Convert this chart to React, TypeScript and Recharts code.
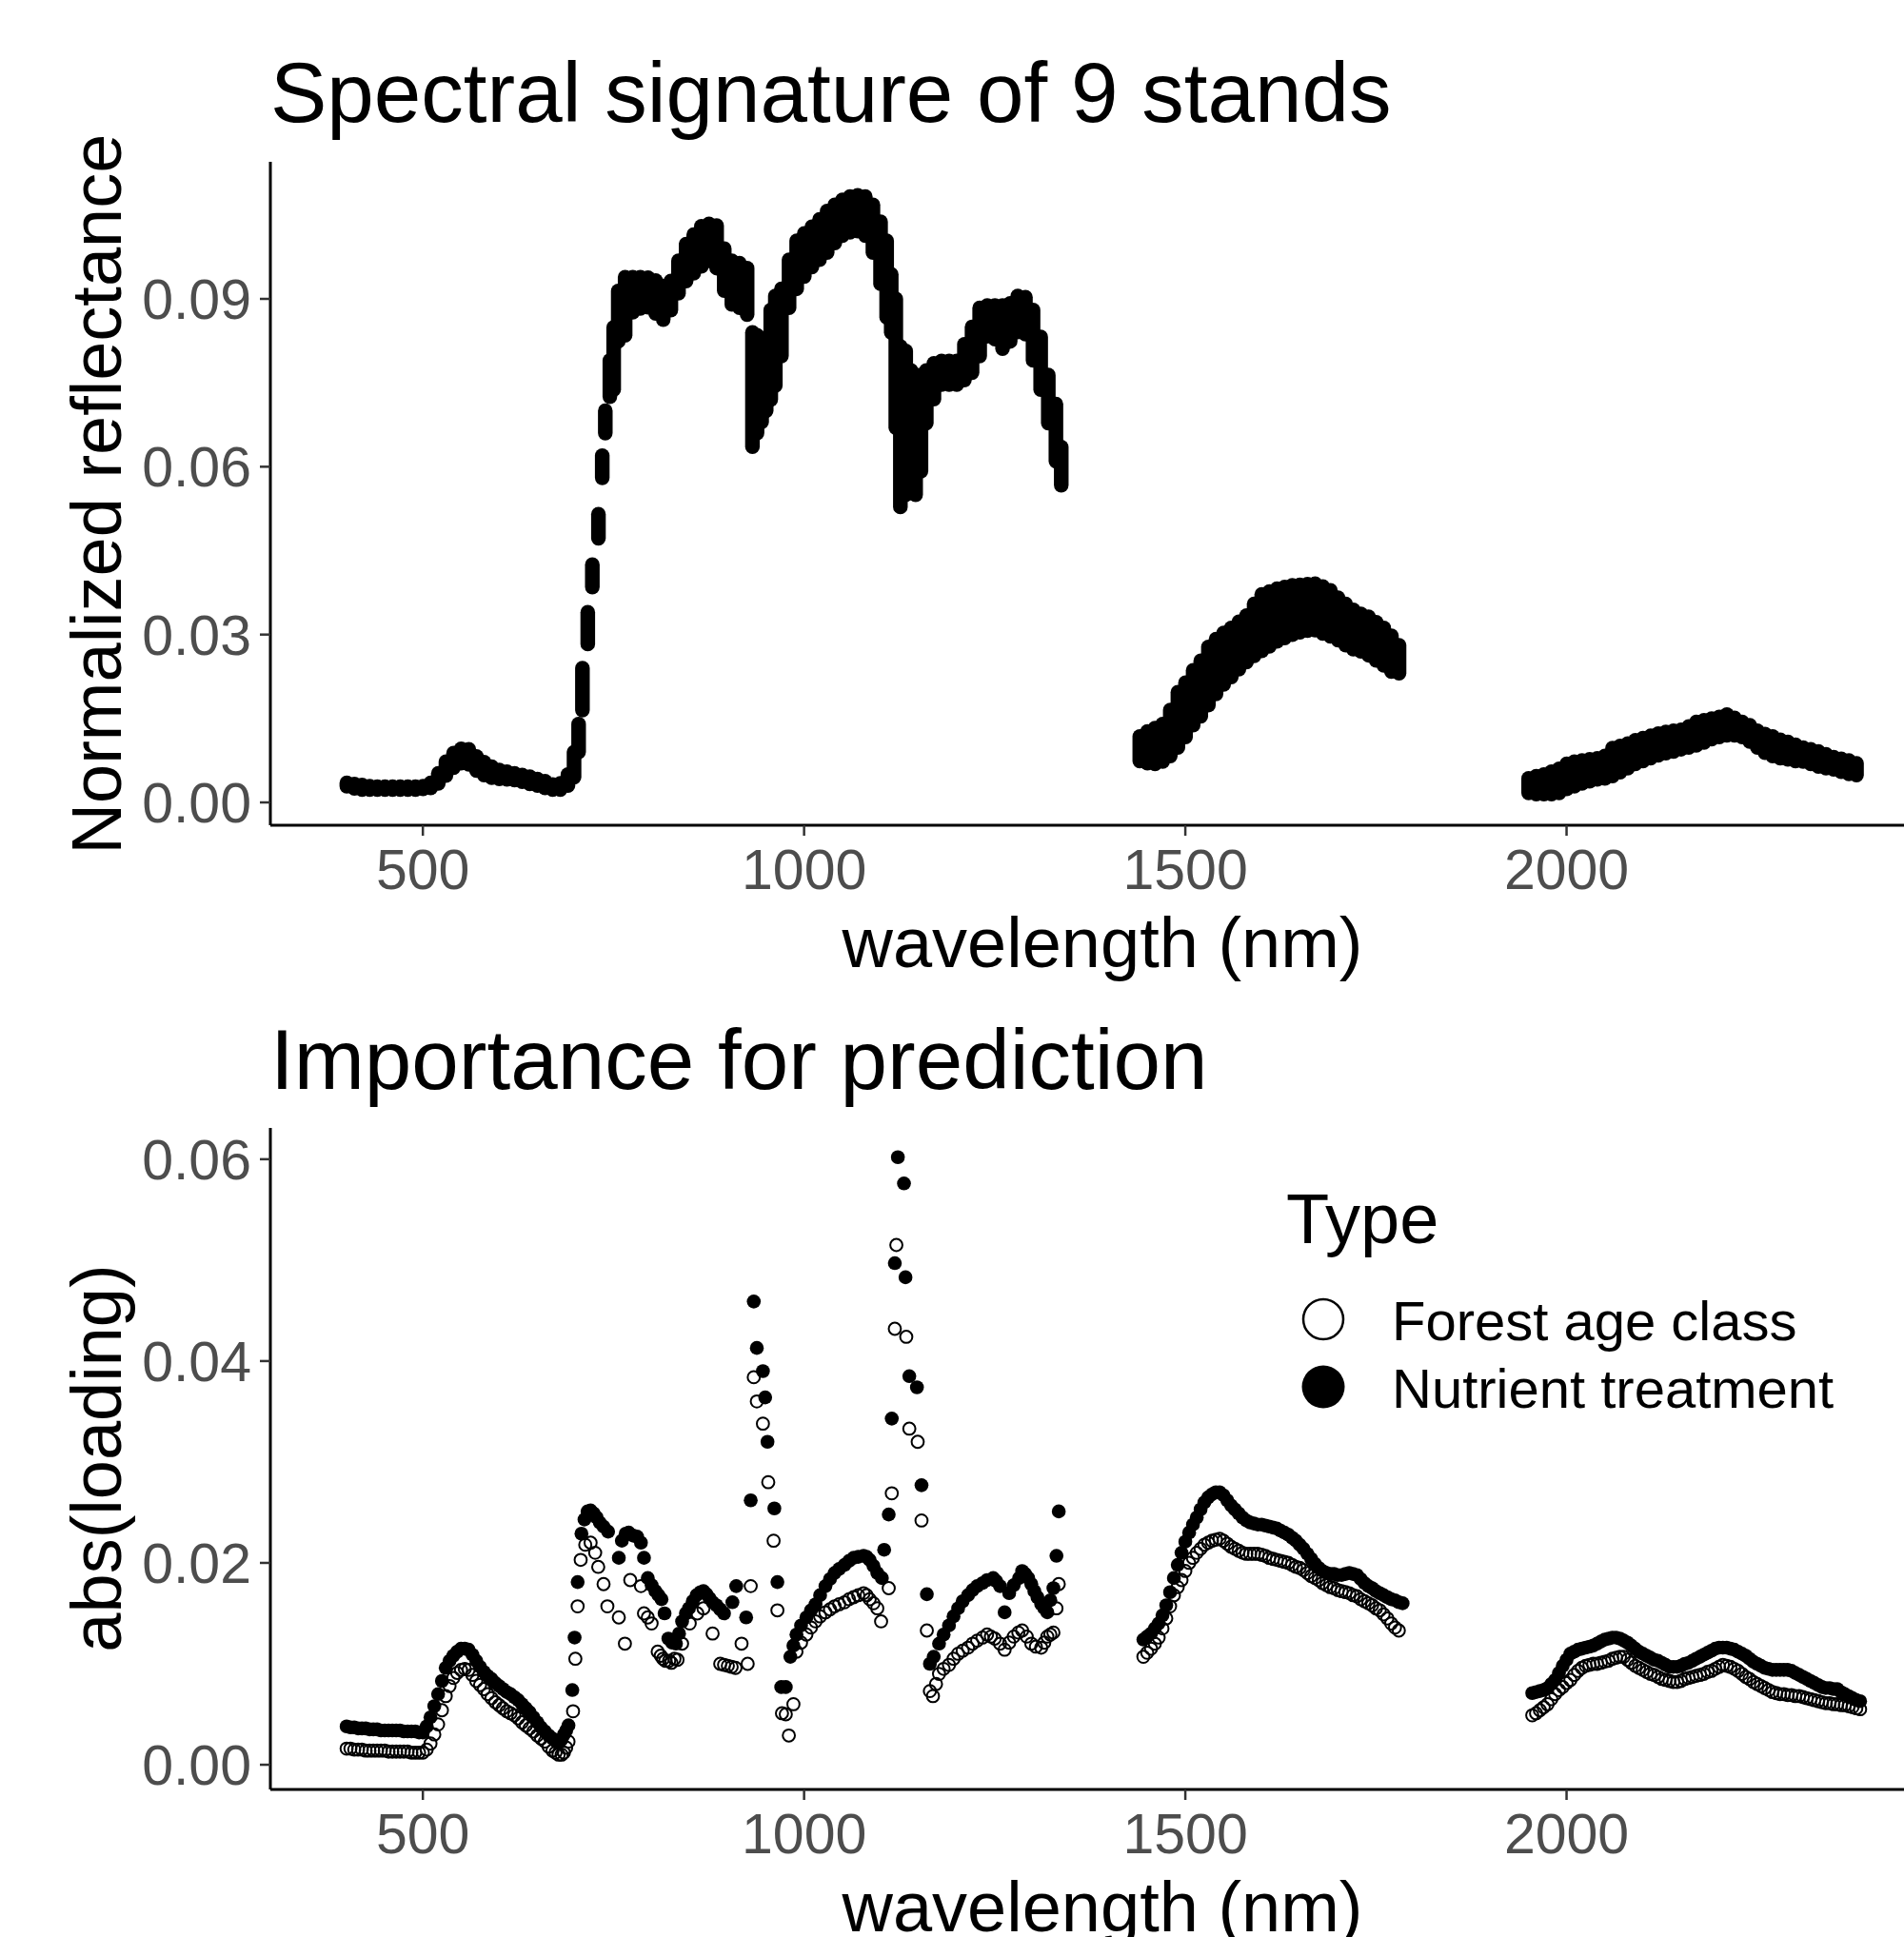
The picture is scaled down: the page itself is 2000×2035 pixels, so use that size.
import React from 'react';
import { ComposedChart, Bar, XAxis, YAxis, ScatterChart, Scatter } from 'recharts';

const FONT = '"Liberation Sans", Arial, Helvetica, sans-serif';

// top panel: per wavelength, lowest and highest reflectance among the 9 stands
const topWl = [
  400, 410, 420, 430, 440, 450, 460, 470, 480, 490, 500, 510, 520, 530, 540, 550, 560, 570, 580, 590,
  600, 610, 620, 630, 640, 650, 660, 670, 680, 690, 698, 704, 709, 716, 722, 730, 735, 739, 745, 750,
  756, 765, 775, 785, 795, 805, 815, 825, 835, 845, 855, 865, 875, 885, 895, 905, 915, 925, 932, 938,
  944, 950, 956, 962, 970, 980, 990, 1000, 1010, 1020, 1030, 1040, 1050, 1060, 1070, 1080, 1090, 1100, 1108, 1114,
  1120, 1126, 1133, 1140, 1146, 1153, 1160, 1170, 1180, 1190, 1200, 1210, 1220, 1230, 1240, 1250, 1260, 1270, 1280, 1290,
  1300, 1310, 1320, 1330, 1337,
  1440, 1450, 1460, 1470, 1480, 1490, 1500, 1510, 1520, 1530, 1540, 1550, 1560, 1570, 1580, 1590, 1600, 1610, 1620, 1630,
  1640, 1650, 1660, 1670, 1680, 1690, 1700, 1710, 1720, 1730, 1740, 1750, 1760, 1770, 1780,
  1950, 1960, 1970, 1980, 1990, 2000, 2010, 2020, 2030, 2040, 2050, 2060, 2070, 2080, 2090, 2100, 2110, 2120, 2130, 2140,
  2150, 2160, 2170, 2180, 2190, 2200, 2210, 2220, 2230, 2240, 2250, 2260, 2270, 2280, 2290, 2300, 2310, 2320, 2330, 2340,
  2350, 2360, 2370, 2380,
];
const topLo = [
  0.0029, 0.0025, 0.0023, 0.0023, 0.0023, 0.0023, 0.0023, 0.0023, 0.0023, 0.0023, 0.0024, 0.0026, 0.0034, 0.0048, 0.0062, 0.0070, 0.0068, 0.0057, 0.0049, 0.0044,
  0.0042, 0.0041, 0.0040, 0.0037, 0.0033, 0.0030, 0.0026, 0.0023, 0.0023, 0.0030, 0.0045, 0.0090, 0.0165, 0.0283, 0.0385, 0.0472, 0.0580, 0.0660, 0.0725, 0.0738,
  0.0824, 0.0835, 0.0876, 0.0883, 0.0885, 0.0874, 0.0863, 0.0880, 0.0910, 0.0932, 0.0946, 0.0958, 0.0968, 0.0955, 0.0915, 0.0890, 0.0884, 0.0872, 0.0636, 0.0660,
  0.0680, 0.0700, 0.0720, 0.0745, 0.0798, 0.0884, 0.0918, 0.0940, 0.0957, 0.0970, 0.0983, 0.1000, 0.1013, 0.1019, 0.1021, 0.1013, 0.0983, 0.0927, 0.0867, 0.0840,
  0.0670, 0.0528, 0.0550, 0.0584, 0.0550, 0.0592, 0.0678, 0.0721, 0.0747, 0.0747, 0.0747, 0.0755, 0.0768, 0.0798, 0.0833, 0.0828, 0.0811, 0.0824, 0.0841, 0.0837,
  0.0790, 0.0738, 0.0678, 0.0610, 0.0567,
  0.0074, 0.0070, 0.0069, 0.0073, 0.0083, 0.0098, 0.0117, 0.0138, 0.0154, 0.0174, 0.0194, 0.0211, 0.0224, 0.0238, 0.0251, 0.0262, 0.0271, 0.0279, 0.0288, 0.0294,
  0.0300, 0.0304, 0.0307, 0.0308, 0.0302, 0.0297, 0.0290, 0.0281, 0.0274, 0.0270, 0.0263, 0.0254, 0.0245, 0.0234, 0.0231,
  0.0017, 0.0015, 0.0015, 0.0015, 0.0017, 0.0024, 0.0029, 0.0034, 0.0038, 0.0041, 0.0043, 0.0047, 0.0054, 0.0061, 0.0069, 0.0074, 0.0079, 0.0084, 0.0088, 0.0091,
  0.0095, 0.0098, 0.0102, 0.0107, 0.0113, 0.0117, 0.0120, 0.0120, 0.0117, 0.0109, 0.0098, 0.0089, 0.0083, 0.0079, 0.0077, 0.0074, 0.0073, 0.0069, 0.0064, 0.0061,
  0.0059, 0.0055, 0.0051, 0.0049,
];
const topHi = [
  0.0035, 0.0033, 0.0031, 0.0029, 0.0028, 0.0028, 0.0028, 0.0028, 0.0028, 0.0028, 0.0029, 0.0035, 0.0052, 0.0073, 0.0088, 0.0096, 0.0095, 0.0082, 0.0072, 0.0064,
  0.0058, 0.0055, 0.0052, 0.0049, 0.0046, 0.0042, 0.0038, 0.0032, 0.0034, 0.0050, 0.0090, 0.0140, 0.0240, 0.0340, 0.0425, 0.0515, 0.0620, 0.0700, 0.0790, 0.0849,
  0.0914, 0.0939, 0.0939, 0.0939, 0.0938, 0.0933, 0.0923, 0.0932, 0.0968, 0.0998, 0.1015, 0.1030, 0.1034, 0.1031, 0.0990, 0.0968, 0.0964, 0.0955, 0.0840, 0.0835,
  0.0830, 0.0830, 0.0880, 0.0905, 0.0918, 0.0970, 0.1004, 0.1017, 0.1029, 0.1042, 0.1057, 0.1068, 0.1077, 0.1083, 0.1085, 0.1083, 0.1068, 0.1038, 0.1004, 0.0944,
  0.0900, 0.0815, 0.0807, 0.0772, 0.0764, 0.0764, 0.0772, 0.0785, 0.0789, 0.0789, 0.0789, 0.0819, 0.0850, 0.0884, 0.0888, 0.0888, 0.0888, 0.0892, 0.0905, 0.0903,
  0.0880, 0.0832, 0.0764, 0.0712, 0.0635,
  0.0118, 0.0127, 0.0133, 0.0140, 0.0165, 0.0197, 0.0214, 0.0236, 0.0253, 0.0278, 0.0292, 0.0303, 0.0312, 0.0323, 0.0334, 0.0355, 0.0372, 0.0377, 0.0382, 0.0385,
  0.0388, 0.0389, 0.0390, 0.0391, 0.0386, 0.0379, 0.0366, 0.0355, 0.0344, 0.0337, 0.0332, 0.0322, 0.0312, 0.0298, 0.0281,
  0.0043, 0.0047, 0.0050, 0.0055, 0.0060, 0.0069, 0.0073, 0.0075, 0.0077, 0.0079, 0.0083, 0.0097, 0.0101, 0.0105, 0.0111, 0.0115, 0.0119, 0.0123, 0.0126, 0.0128,
  0.0130, 0.0136, 0.0144, 0.0147, 0.0150, 0.0153, 0.0157, 0.0151, 0.0144, 0.0138, 0.0128, 0.0122, 0.0118, 0.0112, 0.0108, 0.0103, 0.0098, 0.0095, 0.0091, 0.0086,
  0.0081, 0.0078, 0.0075, 0.0070,
];

type Pt = [number, number]; // [wavelength nm, abs(loading)]

// bottom panel, Forest age class (open circles)
const forestVnir: Pt[] = [
  [400, .0016], [405, .0016], [410, .0015], [415, .0015], [420, .0015], [425, .0014], [430, .0014], [435, .0014], [440, .0014], [445, .0014],
  [450, .0014], [455, .0013], [460, .0013], [465, .0013], [470, .0013], [475, .0013], [480, .0013], [485, .0012], [490, .0012], [495, .0012],
  [500, .0012], [505, .0015], [510, .0021], [515, .0030], [520, .0040], [525, .0054], [530, .0068], [535, .0078], [540, .0086], [545, .0091],
  [550, .0094], [555, .0095], [560, .0094], [565, .0089], [570, .0083], [575, .0079], [580, .0075], [585, .0070], [590, .0066], [595, .0062],
  [600, .0059], [605, .0056], [610, .0053], [615, .0051], [620, .0049], [625, .0046], [630, .0042], [635, .0039], [640, .0036], [645, .0033],
  [650, .0029], [655, .0026], [660, .0023], [665, .0018], [670, .0014], [674, .0012], [678, .0010], [682, .0010], [685, .0012], [688, .0017],
  [691, .0023], [697, .0053], [700, .0105], [703, .0157], [707, .0203], [713, .0218], [720, .0220], [726, .0210], [730, .0196], [737, .0179],
  [742, .0157], [757, .0146], [765, .0120], [772, .0183], [786, .0177], [790, .0150], [795, .0146], [800, .0140], [808, .0112], [812, .0108],
  [815, .0105], [818, .0103], [823, .0103], [826, .0101], [830, .0105], [834, .0104], [840, .0120], [850, .0140], [860, .0150], [868, .0155],
  [880, .0130], [890, .0100], [895, .0099], [900, .0098], [905, .0097], [910, .0096], [918, .0120], [926, .0100], [930, .0177], [934, .0384],
  [938, .0360], [946, .0338], [953, .0280], [960, .0222], [965, .0153], [971, .0051], [976, .0050], [980, .0029], [986, .0060], [990, .0112],
  [996, .0121], [1003, .0129], [1009, .0136], [1015, .0142], [1021, .0147], [1028, .0151], [1034, .0154], [1040, .0157], [1046, .0159], [1053, .0161],
  [1059, .0164], [1065, .0166], [1071, .0168], [1078, .0170], [1082, .0168], [1086, .0164], [1091, .0160], [1096, .0155], [1101, .0142], [1111, .0175],
  [1115, .0269], [1119, .0432], [1121, .0515], [1134, .0424], [1138, .0333], [1149, .0320], [1154, .0242], [1161, .0133], [1165, .0073], [1169, .0068],
  [1173, .0080], [1177, .0090], [1183, .0095], [1190, .0099], [1196, .0105], [1202, .0110], [1208, .0113], [1215, .0116], [1221, .0120], [1227, .0123],
  [1234, .0126], [1240, .0129], [1245, .0127], [1250, .0125], [1257, .0120], [1263, .0114], [1269, .0121], [1275, .0127], [1281, .0131], [1286, .0133],
  [1292, .0127], [1298, .0120], [1304, .0117], [1311, .0116], [1315, .0121], [1319, .0127], [1323, .0129], [1327, .0131], [1331, .0155], [1334, .0179],
];
const forestSwir1: Pt[] = [
  [1445, .0107], [1450, .0111], [1455, .0115], [1460, .0120], [1465, .0126], [1470, .0135], [1475, .0145], [1480, .0157], [1485, .0168], [1490, .0176],
  [1495, .0183], [1500, .0192], [1505, .0200], [1510, .0205], [1515, .0210], [1520, .0214], [1525, .0218], [1530, .0220], [1535, .0222], [1540, .0223],
  [1545, .0224], [1550, .0222], [1555, .0219], [1560, .0216], [1565, .0214], [1570, .0212], [1575, .0210], [1580, .0209], [1585, .0209], [1590, .0209],
  [1595, .0209], [1600, .0208], [1605, .0207], [1610, .0205], [1615, .0204], [1620, .0203], [1625, .0202], [1630, .0201], [1635, .0200], [1640, .0198],
  [1645, .0196], [1650, .0195], [1655, .0193], [1660, .0190], [1665, .0187], [1670, .0185], [1675, .0183], [1680, .0180], [1685, .0178], [1690, .0176],
  [1695, .0175], [1700, .0173], [1705, .0172], [1710, .0171], [1715, .0170], [1720, .0168], [1725, .0167], [1730, .0164], [1735, .0162], [1740, .0160],
  [1745, .0158], [1750, .0155], [1755, .0153], [1760, .0149], [1765, .0145], [1770, .0140], [1775, .0136], [1780, .0133],
];
const forestSwir2: Pt[] = [
  [1955, .0049], [1960, .0051], [1965, .0054], [1970, .0057], [1975, .0060], [1980, .0065], [1985, .0070], [1990, .0074], [1995, .0077], [2000, .0081],
  [2005, .0084], [2010, .0089], [2015, .0093], [2020, .0096], [2025, .0098], [2030, .0099], [2035, .0100], [2040, .0100], [2045, .0101], [2050, .0102],
  [2055, .0103], [2060, .0105], [2065, .0106], [2070, .0107], [2075, .0107], [2080, .0104], [2085, .0101], [2090, .0098], [2095, .0096], [2100, .0094],
  [2105, .0092], [2110, .0090], [2115, .0089], [2120, .0087], [2125, .0085], [2130, .0084], [2135, .0083], [2140, .0082], [2145, .0082], [2150, .0083],
  [2155, .0085], [2160, .0086], [2165, .0087], [2170, .0088], [2175, .0089], [2180, .0090], [2185, .0092], [2190, .0093], [2195, .0095], [2200, .0097],
  [2205, .0099], [2210, .0098], [2215, .0097], [2220, .0095], [2225, .0093], [2230, .0090], [2235, .0087], [2240, .0085], [2245, .0082], [2250, .0080],
  [2255, .0078], [2260, .0076], [2265, .0074], [2270, .0072], [2275, .0071], [2280, .0070], [2285, .0070], [2290, .0069], [2295, .0069], [2300, .0068],
  [2305, .0068], [2310, .0067], [2315, .0066], [2320, .0065], [2325, .0064], [2330, .0063], [2335, .0062], [2340, .0061], [2345, .0061], [2350, .0060],
  [2355, .0060], [2360, .0059], [2365, .0059], [2370, .0058], [2375, .0057], [2380, .0056], [2385, .0055],
];

// bottom panel, Nutrient treatment (filled circles)
const nutrientVnir: Pt[] = [
  [400, .0038], [405, .0037], [410, .0037], [415, .0036], [420, .0036], [425, .0036], [430, .0035], [435, .0035], [440, .0035], [445, .0034],
  [450, .0034], [455, .0034], [460, .0034], [465, .0034], [470, .0034], [475, .0033], [480, .0033], [485, .0033], [490, .0033], [495, .0032],
  [500, .0032], [505, .0038], [510, .0047], [515, .0058], [520, .0070], [525, .0083], [530, .0096], [535, .0103], [540, .0108], [545, .0112],
  [550, .0115], [555, .0115], [560, .0114], [565, .0109], [570, .0103], [575, .0097], [580, .0092], [585, .0088], [590, .0085], [595, .0081],
  [600, .0078], [605, .0075], [610, .0072], [615, .0070], [620, .0067], [625, .0064], [630, .0060], [635, .0056], [640, .0052], [645, .0047],
  [650, .0042], [655, .0037], [660, .0033], [665, .0029], [670, .0026], [675, .0023], [678, .0022], [682, .0025], [685, .0030], [688, .0034],
  [691, .0039], [696, .0074], [699, .0126], [703, .0181], [708, .0229], [712, .0243], [716, .0251], [720, .0252], [724, .0249], [728, .0245],
  [732, .0240], [737, .0236], [743, .0231], [757, .0205], [761, .0222], [766, .0229], [770, .0230], [776, .0227], [781, .0226], [786, .0220],
  [790, .0205], [795, .0185], [800, .0178], [805, .0172], [809, .0168], [813, .0164], [817, .0150], [822, .0125], [827, .0121], [832, .0120],
  [836, .0130], [840, .0142], [845, .0150], [849, .0155], [854, .0162], [859, .0168], [864, .0171], [868, .0172], [872, .0169], [876, .0165],
  [880, .0161], [885, .0158], [890, .0154], [895, .0150], [906, .0161], [911, .0177], [924, .0146], [930, .0262], [934, .0459], [938, .0413],
  [946, .0390], [949, .0364], [952, .0320], [961, .0254], [965, .0181], [970, .0077], [976, .0077], [982, .0107], [986, .0118], [990, .0129],
  [996, .0138], [1003, .0146], [1009, .0153], [1015, .0159], [1021, .0168], [1028, .0177], [1034, .0184], [1040, .0190], [1046, .0194], [1053, .0198],
  [1059, .0202], [1065, .0205], [1071, .0206], [1078, .0207], [1082, .0206], [1086, .0203], [1091, .0197], [1096, .0190], [1102, .0185], [1105, .0213],
  [1111, .0248], [1115, .0343], [1119, .0497], [1123, .0602], [1131, .0576], [1133, .0483], [1138, .0385], [1148, .0374], [1154, .0277], [1161, .0169],
  [1165, .0100], [1170, .0107], [1177, .0120], [1183, .0129], [1190, .0138], [1196, .0147], [1202, .0155], [1208, .0162], [1215, .0168], [1221, .0173],
  [1227, .0177], [1234, .0180], [1240, .0183], [1248, .0185], [1252, .0182], [1257, .0177], [1263, .0151], [1269, .0170], [1275, .0178], [1282, .0185],
  [1286, .0192], [1290, .0189], [1294, .0185], [1298, .0179], [1302, .0172], [1306, .0166], [1311, .0159], [1315, .0155], [1319, .0151], [1323, .0163],
  [1327, .0175], [1331, .0207], [1334, .0251],
];
const nutrientSwir1: Pt[] = [
  [1445, .0124], [1450, .0127], [1455, .0130], [1460, .0135], [1465, .0140], [1470, .0148], [1475, .0158], [1480, .0171], [1485, .0185], [1490, .0198],
  [1495, .0210], [1500, .0221], [1505, .0230], [1510, .0238], [1515, .0245], [1520, .0253], [1525, .0260], [1530, .0265], [1535, .0268], [1540, .0270],
  [1545, .0270], [1550, .0267], [1555, .0262], [1560, .0257], [1565, .0253], [1570, .0249], [1575, .0245], [1580, .0242], [1585, .0240], [1590, .0239],
  [1595, .0238], [1600, .0238], [1605, .0237], [1610, .0236], [1615, .0235], [1620, .0234], [1625, .0232], [1630, .0230], [1635, .0228], [1640, .0225],
  [1645, .0222], [1650, .0218], [1655, .0214], [1660, .0209], [1665, .0204], [1670, .0199], [1675, .0195], [1680, .0192], [1685, .0190], [1690, .0189],
  [1695, .0189], [1700, .0188], [1705, .0188], [1710, .0189], [1715, .0190], [1720, .0189], [1725, .0188], [1730, .0184], [1735, .0180], [1740, .0177],
  [1745, .0175], [1750, .0172], [1755, .0170], [1760, .0168], [1765, .0166], [1770, .0164], [1775, .0163], [1780, .0161], [1785, .0160],
];
const nutrientSwir2: Pt[] = [
  [1955, .0071], [1960, .0072], [1965, .0073], [1970, .0074], [1975, .0076], [1980, .0080], [1985, .0084], [1990, .0091], [1995, .0098], [2000, .0104],
  [2005, .0110], [2010, .0112], [2015, .0114], [2020, .0115], [2025, .0116], [2030, .0117], [2035, .0118], [2040, .0120], [2045, .0122], [2050, .0124],
  [2055, .0125], [2060, .0126], [2065, .0126], [2070, .0125], [2075, .0123], [2080, .0121], [2085, .0118], [2090, .0115], [2095, .0112], [2100, .0110],
  [2105, .0108], [2110, .0106], [2115, .0104], [2120, .0103], [2125, .0101], [2130, .0099], [2135, .0097], [2140, .0097], [2145, .0097], [2150, .0098],
  [2155, .0100], [2160, .0101], [2165, .0103], [2170, .0105], [2175, .0107], [2180, .0109], [2185, .0111], [2190, .0113], [2195, .0115], [2200, .0116],
  [2205, .0116], [2210, .0116], [2215, .0115], [2220, .0114], [2225, .0112], [2230, .0110], [2235, .0108], [2240, .0105], [2245, .0102], [2250, .0100],
  [2255, .0098], [2260, .0096], [2265, .0095], [2270, .0094], [2275, .0094], [2280, .0094], [2285, .0094], [2290, .0094], [2295, .0093], [2300, .0091],
  [2305, .0089], [2310, .0087], [2315, .0085], [2320, .0083], [2325, .0081], [2330, .0079], [2335, .0077], [2340, .0076], [2345, .0076], [2350, .0075],
  [2355, .0075], [2360, .0072], [2365, .0070], [2370, .0068], [2375, .0066], [2380, .0064], [2385, .0063],
];

const xTicks = [500, 1000, 1500, 2000];
const topYTicks = [0, 0.03, 0.06, 0.09];
const bottomYTicks = [0, 0.02, 0.04, 0.06];

const topRows = topWl.map((wl, i) => ({ wl, spread: [topLo[i], topHi[i]] }));
const toRows = (pts: Pt[]) => pts.map(([wl, v]) => ({ wl, v }));
const forestRows = toRows([...forestVnir, ...forestSwir1, ...forestSwir2]);
const nutrientRows = toRows([...nutrientVnir, ...nutrientSwir1, ...nutrientSwir2]);

const R = 7.7;

// 9 overlapping dots per wavelength look like one rounded pill from min to max
const StandPill = (p: any) => {
  if (p.x == null || p.y == null) return null;
  const cx = p.x + (p.width || 0) / 2;
  const h = p.height || 0;
  const top = Math.min(p.y, p.y + h) - R;
  return <rect x={cx - R} y={top} width={2 * R} height={Math.abs(h) + 2 * R} rx={R} ry={R} fill="#000" />;
};

const OpenDot = (p: any) => (
  <circle cx={p.cx} cy={p.cy} r={6.4} fill="none" stroke="#000" strokeWidth={2} />
);
const FilledDot = (p: any) => <circle cx={p.cx} cy={p.cy} r={7.3} fill="#000" />;

const tickStyle = { fill: '#4D4D4D', fontSize: 59, fontFamily: FONT };
const axisLine = { stroke: '#000', strokeWidth: 3 };
const tickLine = { stroke: '#333', strokeWidth: 2.5 };

const xAxisProps = {
  type: 'number' as const,
  dataKey: 'wl',
  domain: [300, 2500],
  ticks: xTicks,
  interval: 0 as const,
  allowDataOverflow: true,
  tick: tickStyle,
  tickSize: 11,
  tickMargin: 14,
  height: 100,
  axisLine,
  tickLine,
};

const yAxisBase = {
  type: 'number' as const,
  interval: 0 as const,
  allowDataOverflow: true,
  tick: tickStyle,
  tickSize: 11,
  tickMargin: 9,
  width: 284,
  axisLine,
  tickLine,
  tickFormatter: (v: number) => v.toFixed(2),
};

const App = () => (
  <div style={{ position: 'absolute', left: 0, top: 0, width: 2000, height: 2035, overflow: 'hidden', background: '#fff' }}>
    <div style={{ position: 'absolute', left: 0, top: 0 }}>
      <ComposedChart width={2100} height={967} data={topRows} margin={{ top: 170, right: 54, bottom: 0, left: 0 }}>
        <XAxis {...xAxisProps} />
        <YAxis {...yAxisBase} domain={[-0.00408, 0.1145]} ticks={topYTicks} />
        <Bar dataKey="spread" shape={StandPill} isAnimationActive={false} />
      </ComposedChart>
    </div>
    <div style={{ position: 'absolute', left: 0, top: 1000 }}>
      <ScatterChart width={2100} height={980} margin={{ top: 185, right: 54, bottom: 0, left: 0 }}>
        <XAxis {...xAxisProps} />
        <YAxis {...yAxisBase} dataKey="v" domain={[-0.00245, 0.0631]} ticks={bottomYTicks} />
        <Scatter name="Forest age class" data={forestRows} shape={OpenDot} isAnimationActive={false} />
        <Scatter name="Nutrient treatment" data={nutrientRows} shape={FilledDot} isAnimationActive={false} />
      </ScatterChart>
    </div>
    <svg width={2000} height={2035} style={{ position: 'absolute', left: 0, top: 0, pointerEvents: 'none' }} fontFamily={FONT}>
      <text x={284} y={128} fontSize={89} fill="#000">Spectral signature of 9 stands</text>
      <text x={1158} y={1016} fontSize={74} fill="#000" textAnchor="middle">wavelength (nm)</text>
      <text transform="translate(127,519) rotate(-90)" fontSize={74} fill="#000" textAnchor="middle">Normalized reflectance</text>

      <text x={284} y={1144} fontSize={89} fill="#000">Importance for prediction</text>
      <text x={1158} y={2029} fontSize={74} fill="#000" textAnchor="middle">wavelength (nm)</text>
      <text transform="translate(127,1532) rotate(-90)" fontSize={74} fill="#000" textAnchor="middle">abs(loading)</text>

      <text x={1351} y={1306} fontSize={74} fill="#000">Type</text>
      <circle cx={1390} cy={1386} r={21} fill="none" stroke="#000" strokeWidth={2.5} />
      <text x={1462} y={1408} fontSize={58} fill="#000">Forest age class</text>
      <circle cx={1390} cy={1457} r={22.5} fill="#000" />
      <text x={1462} y={1479} fontSize={58} fill="#000">Nutrient treatment</text>
    </svg>
  </div>
);

export default App;
